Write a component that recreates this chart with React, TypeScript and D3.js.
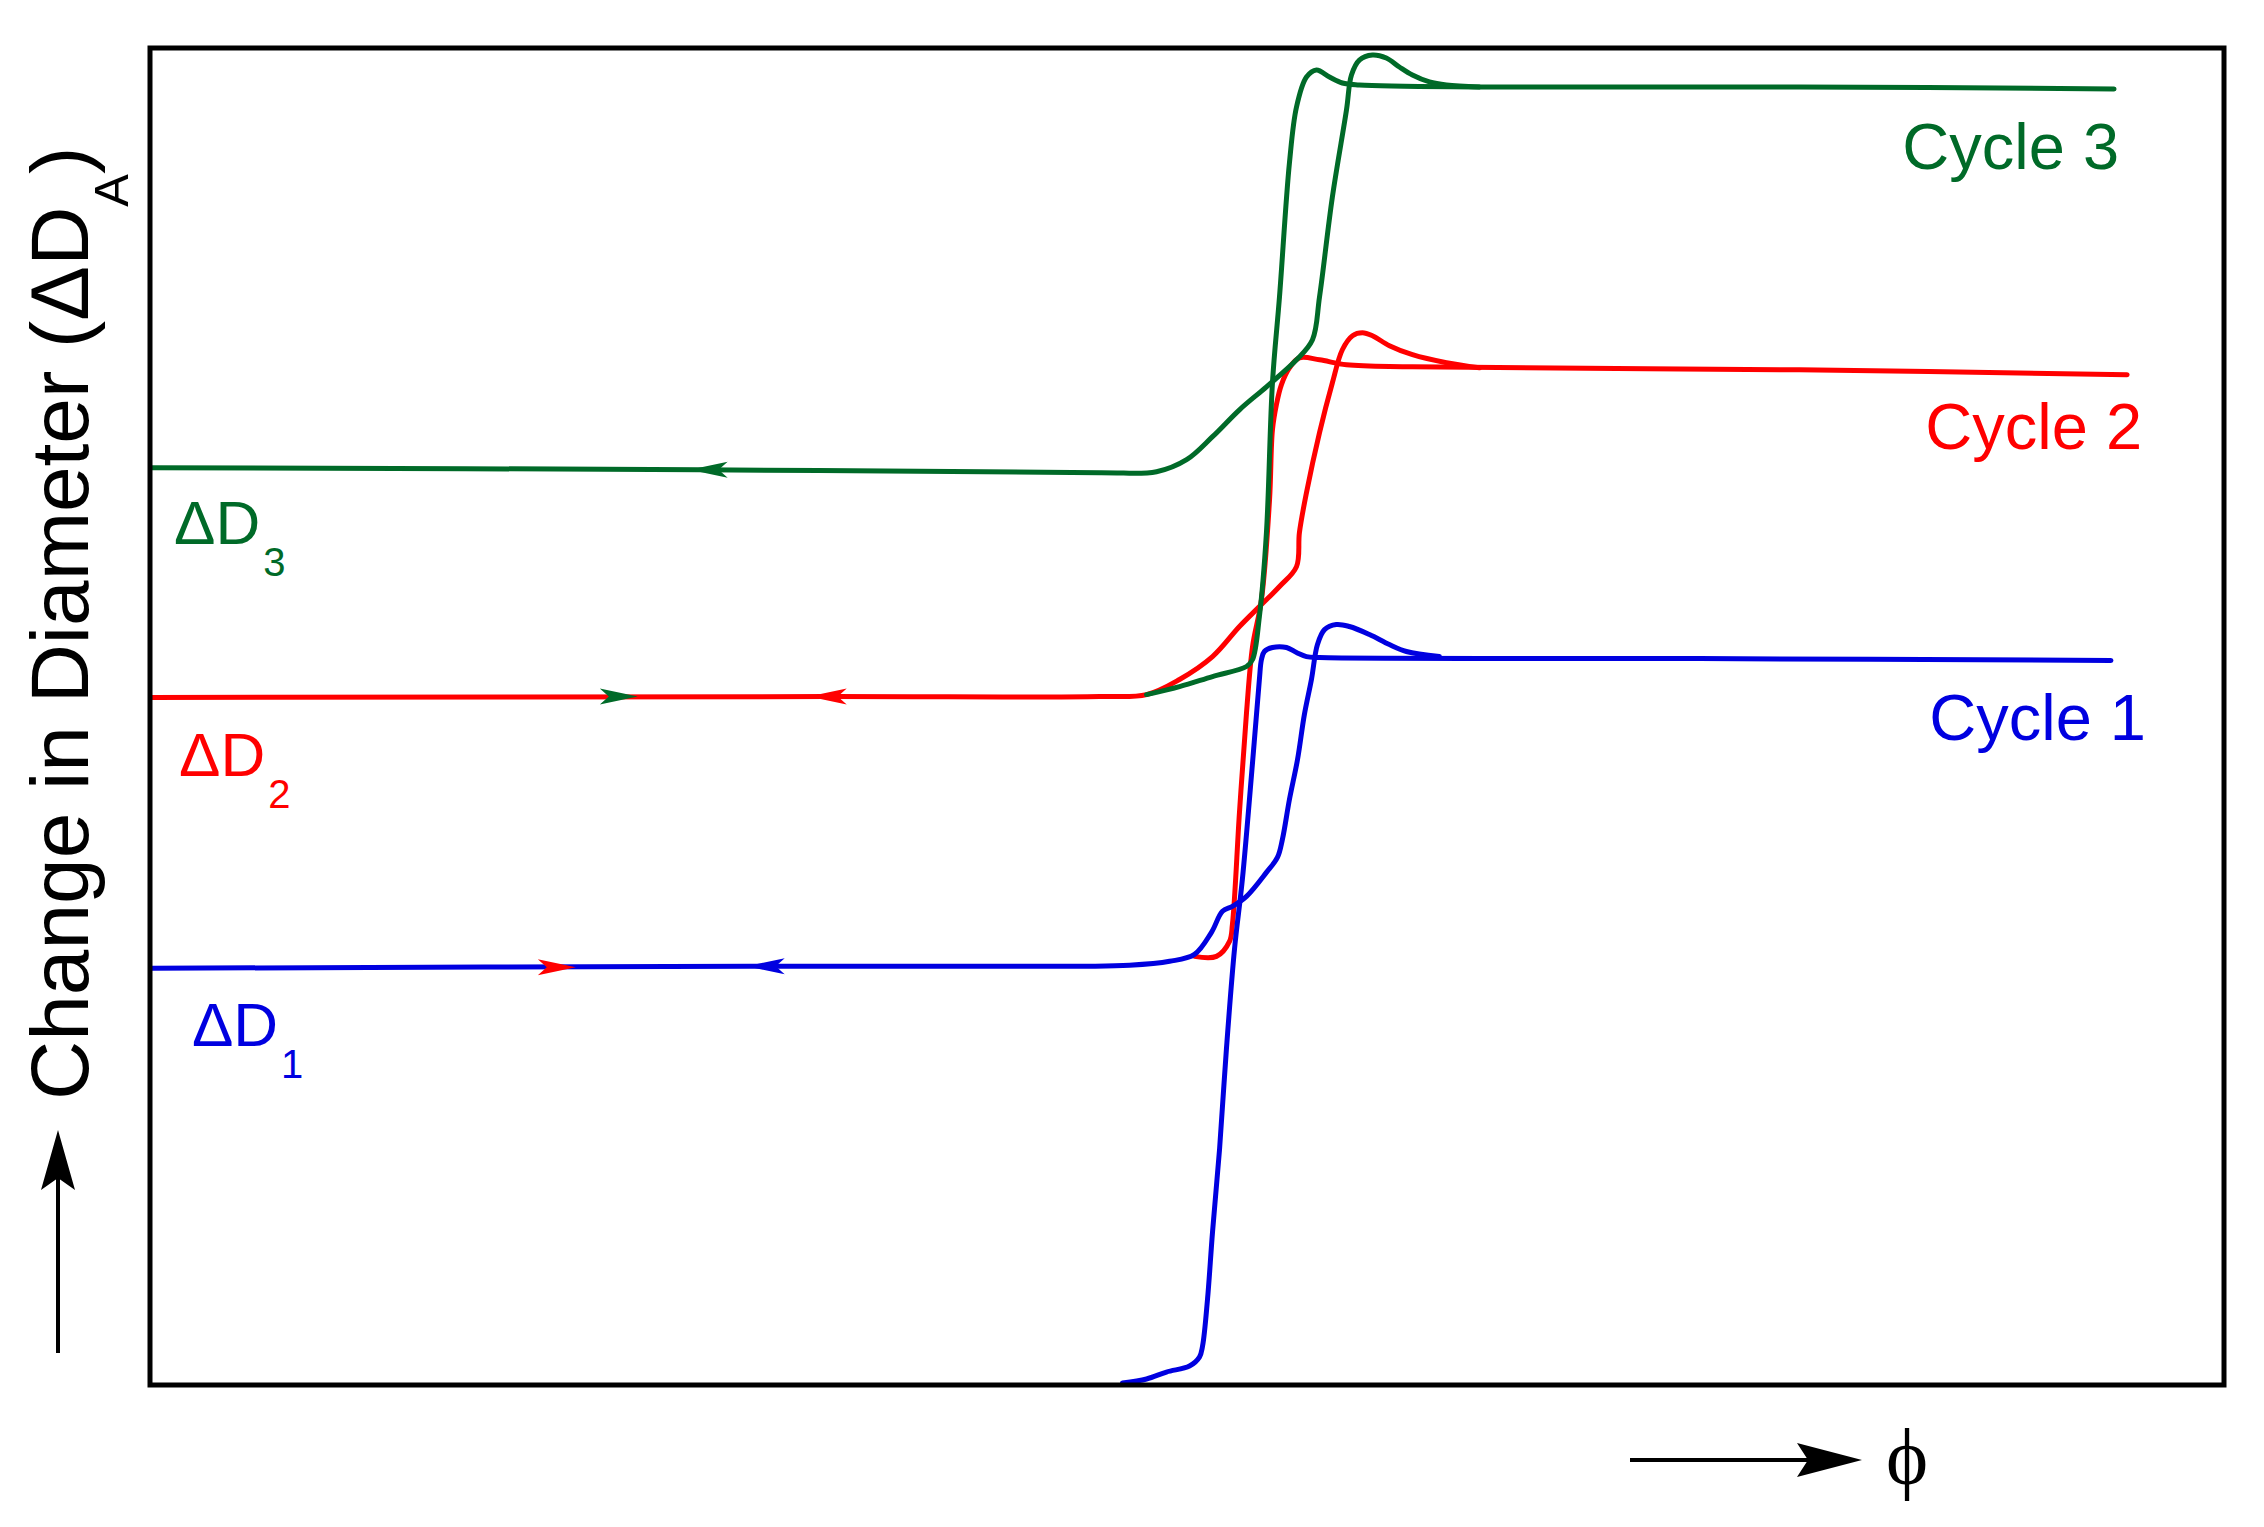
import * as d3 from 'd3'

// figure is schematic: phi and change in diameter in arbitrary units (0..100)
const cycle1Up: [number, number][] = [
  [46.89, 0.15], [48.05, 0.45], [49.01, 0.97], [50.12, 1.42], [50.6, 2.09], [50.75, 2.91],
  [50.99, 6.43], [51.23, 11.43], [51.57, 17.64], [51.9, 25.11], [52.29, 32.59], [52.67, 37.82],
  [53.16, 46.56], [53.49, 52.77], [53.59, 54.26], [53.73, 54.86], [54.12, 55.16], [54.8, 55.16],
  [55.28, 54.78], [55.76, 54.48], [56.39, 54.41], [74.7, 54.33], [94.55, 54.19],
]
const cycle1Down: [number, number][] = [
  [62.17, 54.48], [60.58, 54.86], [59.76, 55.38], [58.8, 56.13], [57.83, 56.73], [57.2, 56.88],
  [56.63, 56.5], [56.29, 55.38], [56.0, 52.77], [55.66, 50.15], [55.33, 46.79], [54.94, 43.8],
  [54.6, 40.81], [54.36, 39.46], [53.83, 38.34], [52.87, 36.55], [52.19, 35.8], [51.71, 35.43],
  [51.18, 33.86], [50.36, 32.21], [49.16, 31.69], [47.23, 31.39], [44.82, 31.32], [28.92, 31.32],
  [0.1, 31.17],
]
const cycle2Up: [number, number][] = [
  [50.36, 32.06], [51.42, 32.06], [52.05, 33.18], [52.19, 34.45], [52.53, 42.83], [52.87, 50.3],
  [53.16, 55.23], [53.59, 58.74], [53.98, 66.22], [54.12, 71.45], [54.31, 73.32], [54.55, 74.81],
  [54.94, 76.08], [55.42, 76.83], [56.39, 76.68], [57.69, 76.31], [60.87, 76.16], [79.52, 75.93],
  [95.33, 75.56],
]
const cycle2Down: [number, number][] = [
  [64.1, 76.08], [62.51, 76.46], [60.87, 77.06], [59.76, 77.73], [58.94, 78.48], [58.46, 78.7],
  [57.98, 78.48], [57.49, 77.43], [57.01, 74.96], [56.39, 71.23], [55.76, 66.74], [55.42, 63.75],
  [55.28, 61.21], [54.46, 59.72], [53.49, 58.22], [52.53, 56.73], [51.23, 54.48], [49.64, 52.77],
  [48.05, 51.64], [45.78, 51.49], [32.58, 51.49], [0.1, 51.42],
]
const cycle3Up: [number, number][] = [
  [48.05, 51.64], [49.64, 52.24], [51.23, 52.99], [52.87, 53.74], [53.16, 54.26], [53.49, 57.47],
  [53.83, 63.75], [54.12, 74.96], [54.46, 81.39], [54.94, 91.41], [55.28, 95.59], [55.76, 97.83],
  [56.24, 98.36], [56.87, 97.83], [57.49, 97.38], [58.31, 97.23], [64.1, 97.09], [79.52, 97.09],
  [94.7, 96.94],
]
const cycle3Down: [number, number][] = [
  [64.1, 97.09], [62.51, 97.23], [61.69, 97.46], [60.87, 97.98], [60.24, 98.58], [59.61, 99.25],
  [58.94, 99.48], [58.31, 99.1], [57.93, 97.98], [57.69, 95.37], [57.01, 88.86], [56.39, 81.39],
  [56.05, 78.18], [55.28, 76.68], [53.83, 74.66], [52.53, 72.94], [51.23, 70.93], [49.98, 69.21],
  [48.53, 68.31], [45.78, 68.24], [26.51, 68.46], [0.1, 68.61],
]

// direction arrows on the flat branches: x of tip, level, +1 right / -1 left
const arrows = [
  { x: 26.02, y: 68.46, dir: -1, color: 'g' },
  { x: 23.52, y: 51.49, dir: 1, color: 'g' },
  { x: 31.76, y: 51.49, dir: -1, color: 'r' },
  { x: 20.53, y: 31.24, dir: 1, color: 'r' },
  { x: 28.77, y: 31.32, dir: -1, color: 'b' },
]

const cycleLabels = [
  { text: 'Cycle 3', x: 94.94, y: 90.96, color: 'g' },
  { text: 'Cycle 2', x: 96.05, y: 70.03, color: 'r' },
  { text: 'Cycle 1', x: 96.24, y: 48.21, color: 'b' },
]
const levelLabels = [
  { sub: '3', x: 1.16, y: 62.93, color: 'g' },
  { sub: '2', x: 1.4, y: 45.52, color: 'r' },
  { sub: '1', x: 2.02, y: 25.34, color: 'b' },
]

const colors: Record<string, string> = { g: '#006a28', r: '#ff0000', b: '#0000e0' }

export default function App() {
  const width = 2264
  const height = 1527
  const frame = { left: 150, top: 48, right: 2224, bottom: 1385 }

  const x = d3.scaleLinear().domain([0, 100]).range([frame.left, frame.right])
  const y = d3.scaleLinear().domain([0, 100]).range([frame.bottom, frame.top])

  const line = d3
    .line<[number, number]>()
    .x(d => x(d[0]))
    .y(d => y(d[1]))
    .curve(d3.curveCatmullRom.alpha(0.5))

  const series = [
    { data: cycle2Up, c: 'r' },
    { data: cycle2Down, c: 'r' },
    { data: cycle1Up, c: 'b' },
    { data: cycle1Down, c: 'b' },
    { data: cycle3Up, c: 'g' },
    { data: cycle3Down, c: 'g' },
  ]

  const font = 'Liberation Sans, Arial, Helvetica, sans-serif'

  return (
    <svg width={width} height={height} style={{ position: 'absolute', left: 0, top: 0, background: '#fff' }}>
      <defs>
        <clipPath id="plot">
          <rect x={frame.left} y={frame.top} width={frame.right - frame.left} height={frame.bottom - frame.top} />
        </clipPath>
      </defs>

      <g clipPath="url(#plot)">
        {series.map((s, i) => (
          <path key={i} d={line(s.data) || ''} fill="none" stroke={colors[s.c]} strokeWidth={5} strokeLinejoin="round" strokeLinecap="round" />
        ))}
        {arrows.map((a, i) => (
          <path
            key={i}
            transform={`translate(${x(a.x)},${y(a.y)}) scale(${a.dir},1)`}
            d="M0,0 L-38,-8 L-29,0 L-38,8 Z"
            fill={colors[a.color]}
          />
        ))}
      </g>

      <rect
        x={frame.left}
        y={frame.top}
        width={frame.right - frame.left}
        height={frame.bottom - frame.top}
        fill="none"
        stroke="#000"
        strokeWidth={5}
      />

      {cycleLabels.map(l => (
        <text key={l.text} x={x(l.x)} y={y(l.y)} textAnchor="end" fontFamily={font} fontSize={65} fill={colors[l.color]}>
          {l.text}
        </text>
      ))}

      {levelLabels.map(l => (
        <text key={l.sub} x={x(l.x)} y={y(l.y)} fontFamily={font} fontSize={62} fill={colors[l.color]}>
          ΔD
          <tspan dx={3} dy={32} fontSize={40}>{l.sub}</tspan>
        </text>
      ))}

      {/* y-axis label and arrow */}
      <text transform="translate(88,1100) rotate(-90)" fontFamily={font} fontSize={82} fill="#000">
        Change in Diameter (ΔD
        <tspan dy={40} fontSize={49}>A</tspan>
        <tspan dy={-40}>)</tspan>
      </text>
      <line x1={58} x2={58} y1={1353} y2={1175} stroke="#000" strokeWidth={4} />
      <path d="M58,1130 L75,1190 L58,1178 L41,1190 Z" fill="#000" />

      {/* x-axis arrow and phi */}
      <line x1={1630} x2={1815} y1={1460} y2={1460} stroke="#000" strokeWidth={4} />
      <path d="M1862,1460 L1797,1443 L1808,1460 L1797,1477 Z" fill="#000" />
      <text x={1886} y={1484} fontFamily="Liberation Serif, DejaVu Serif, Times New Roman, serif" fontSize={80} fill="#000">
        ϕ
      </text>
    </svg>
  )
}
